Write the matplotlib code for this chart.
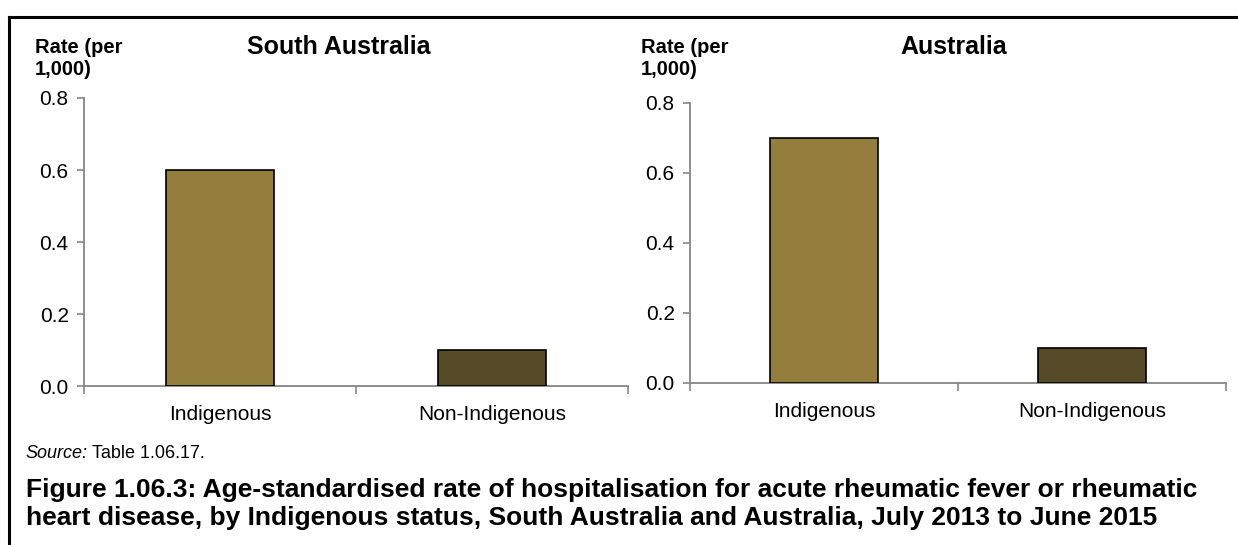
import matplotlib
matplotlib.use("Agg")
import matplotlib.pyplot as plt
from matplotlib.lines import Line2D

plt.rcParams['font.family'] = ['Liberation Sans', 'DejaVu Sans']

# data
categories = ['Indigenous', 'Non-Indigenous']
sa_rates = [0.6, 0.1]
aus_rates = [0.7, 0.1]
yticks = [0.0, 0.2, 0.4, 0.6, 0.8]
bar_colors = ['#947e3e', '#574a26']
panel_titles = ['South Australia', 'Australia']

W, H = 1238, 545
fig = plt.figure(figsize=(W / 100, H / 100), dpi=100)
axis_grey = '#868686'


def px_axes(x0, y_top, x1, y_bot):
    return fig.add_axes([x0 / W, (H - y_bot) / H, (x1 - x0) / W, (y_bot - y_top) / H])


def draw_panel(ax, rates, title, title_x, ylab_x):
    x = range(len(categories))
    ax.bar(x, rates, width=0.4, color=bar_colors, edgecolor='black', linewidth=1.2, zorder=3)
    ax.set_xlim(-0.5, len(categories) - 0.5)
    ax.set_ylim(0, 0.8)
    ax.set_yticks(yticks)
    ax.set_yticklabels([f'{v:.1f}' for v in yticks])
    ax.set_xticks([-0.5, 0.5, 1.5], minor=True)
    ax.set_xticks(list(x))
    ax.set_xticklabels(categories)
    ax.tick_params(axis='x', which='major', length=0, pad=14, labelsize=15)
    ax.tick_params(axis='x', which='minor', length=6, color=axis_grey, width=1.2)
    ax.tick_params(axis='y', length=5, color=axis_grey, width=1.2, pad=6, labelsize=15)
    for s in ['top', 'right']:
        ax.spines[s].set_visible(False)
    for s in ['left', 'bottom']:
        ax.spines[s].set_color(axis_grey)
        ax.spines[s].set_linewidth(1.3)
    fig.text(title_x / W, 1 - 47 / H, title, ha='center', va='center',
             fontsize=18, fontweight='bold')
    fig.text(ylab_x / W, 1 - 38 / H, 'Rate (per\n1,000)', ha='left', va='top',
             fontsize=14.5, fontweight='bold', linespacing=1.2)


ax1 = px_axes(84, 98, 628, 386)
draw_panel(ax1, sa_rates, panel_titles[0], 339, 35)

ax2 = px_axes(690, 103, 1226, 383)
draw_panel(ax2, aus_rates, panel_titles[1], 954, 641)

# source line
fig.text(25 / W, 1 - 453 / H, 'Source:', ha='left', va='center', fontsize=13, style='italic')
fig.text(92 / W, 1 - 453 / H, 'Table 1.06.17.', ha='left', va='center', fontsize=13)

# caption
fig.text(26 / W, 1 - 478 / H,
         'Figure 1.06.3: Age-standardised rate of hospitalisation for acute rheumatic fever or rheumatic\n'
         'heart disease, by Indigenous status, South Australia and Australia, July 2013 to June 2015',
         ha='left', va='top', fontsize=19, fontweight='bold', linespacing=1.22)

# frame lines
fig.add_artist(Line2D([9 / W, 9 / W], [0, 1 - 17 / H], color='black', linewidth=2.2))
fig.add_artist(Line2D([9 / W, 1], [1 - 17 / H, 1 - 17 / H], color='black', linewidth=2.2))

fig.savefig('out.png', dpi=100)
